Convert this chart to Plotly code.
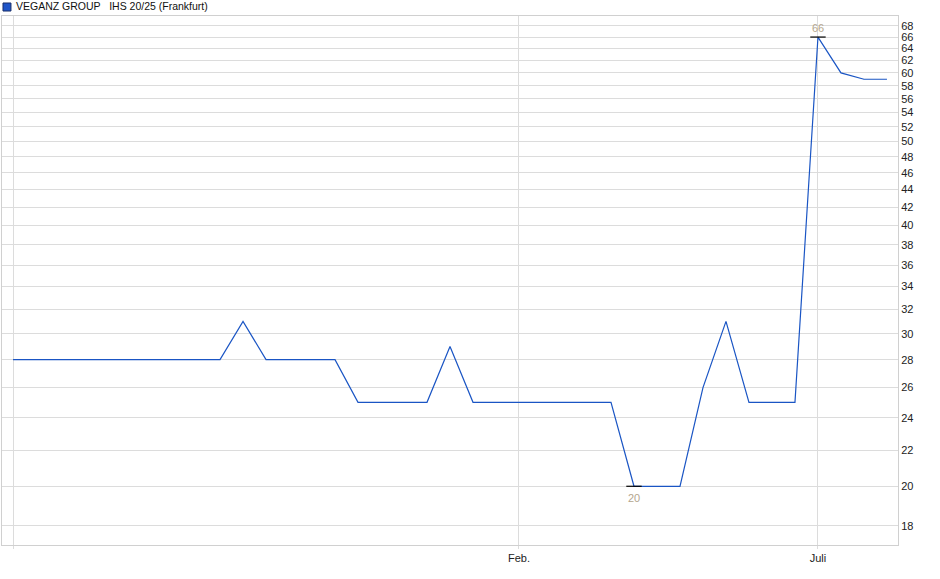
import plotly.graph_objects as go
import numpy as np

# Kursdaten (nur Handelstage mit Kurs), Index = Handelstag
prices = [28, 28, 28, 28, 28, 28, 28, 28, 28, 28,
          31, 28, 28, 28, 28, 25, 25, 25, 25, 29,
          25, 25, 25, 25, 25, 25, 25, 20, 20, 20,
          26, 31, 25, 25, 25, 66, 60, 59, 59]
idx = list(range(len(prices)))

tick_pos = [0, 22, 35]
tick_text = ["", "Feb.", "Juli"]
y_ticks = list(range(18, 70, 2))

name = "VEGANZ GROUP   IHS 20/25 (Frankfurt)"
line_col = "#1a55c4"
grid_col = "#dcdcdc"
label_col = "#b4a68e"

fig = go.Figure()

fig.add_trace(go.Scatter(
    x=idx, y=prices, mode="lines",
    line=dict(color=line_col, width=1.2),
    showlegend=False, hoverinfo="x+y"
))

# Hoch / Tief markieren
i_max = int(np.argmax(prices))
i_min = int(np.argmin(prices))
fig.add_trace(go.Scatter(
    x=[i_max, i_min], y=[prices[i_max], prices[i_min]], mode="markers",
    marker=dict(symbol="line-ew", size=11, line=dict(color="black", width=1.2)),
    showlegend=False, hoverinfo="skip"
))
fig.add_annotation(x=i_max, y=np.log10(prices[i_max]), text=str(prices[i_max]),
                   showarrow=False, yanchor="middle", yshift=9,
                   font=dict(color=label_col, size=11, family="Liberation Sans, Arial"))
fig.add_annotation(x=i_min, y=np.log10(prices[i_min]), text=str(prices[i_min]),
                   showarrow=False, yanchor="middle", yshift=-12,
                   font=dict(color=label_col, size=11, family="Liberation Sans, Arial"))

# Legende oben links
fig.add_shape(type="rect", xref="paper", yref="paper",
              x0=0.0011, x1=0.0100, y0=1.0094, y1=1.0246,
              fillcolor="#1f55c8", line=dict(color="#1a2f6a", width=1))
fig.add_annotation(text=name, xref="paper", yref="paper",
                   x=0.0134, y=1.0189, xanchor="left", yanchor="middle",
                   showarrow=False,
                   font=dict(size=10.5, color="#111111", family="Liberation Sans, Arial"))

fig.update_layout(
    width=940, height=579,
    margin=dict(l=2, r=42, t=16, b=34),
    paper_bgcolor="white", plot_bgcolor="white",
    font=dict(family="Liberation Sans, Arial", size=11, color="#222222"),
    xaxis=dict(
        range=[-0.48, 38.48],
        tickvals=tick_pos, ticktext=tick_text,
        showgrid=True, gridcolor=grid_col, gridwidth=1,
        ticks="outside", ticklen=3, tickcolor=grid_col,
        showline=True, linecolor="#d0d0d0", mirror=True,
        zeroline=False, fixedrange=True
    ),
    yaxis=dict(
        type="log", side="right",
        range=[np.log10(17.11), np.log10(69.8)],
        tickvals=y_ticks, ticktext=[str(v) for v in y_ticks],
        showgrid=True, gridcolor=grid_col, gridwidth=1,
        ticks="", showline=True, linecolor="#d0d0d0", mirror=True,
        zeroline=False, fixedrange=True
    ),
)

# Seitenrand entfernen, damit das Diagramm bei (0,0) beginnt
fig.write_html("out.html", config={"displayModeBar": False},
               post_script="document.body.style.margin='0px';")
